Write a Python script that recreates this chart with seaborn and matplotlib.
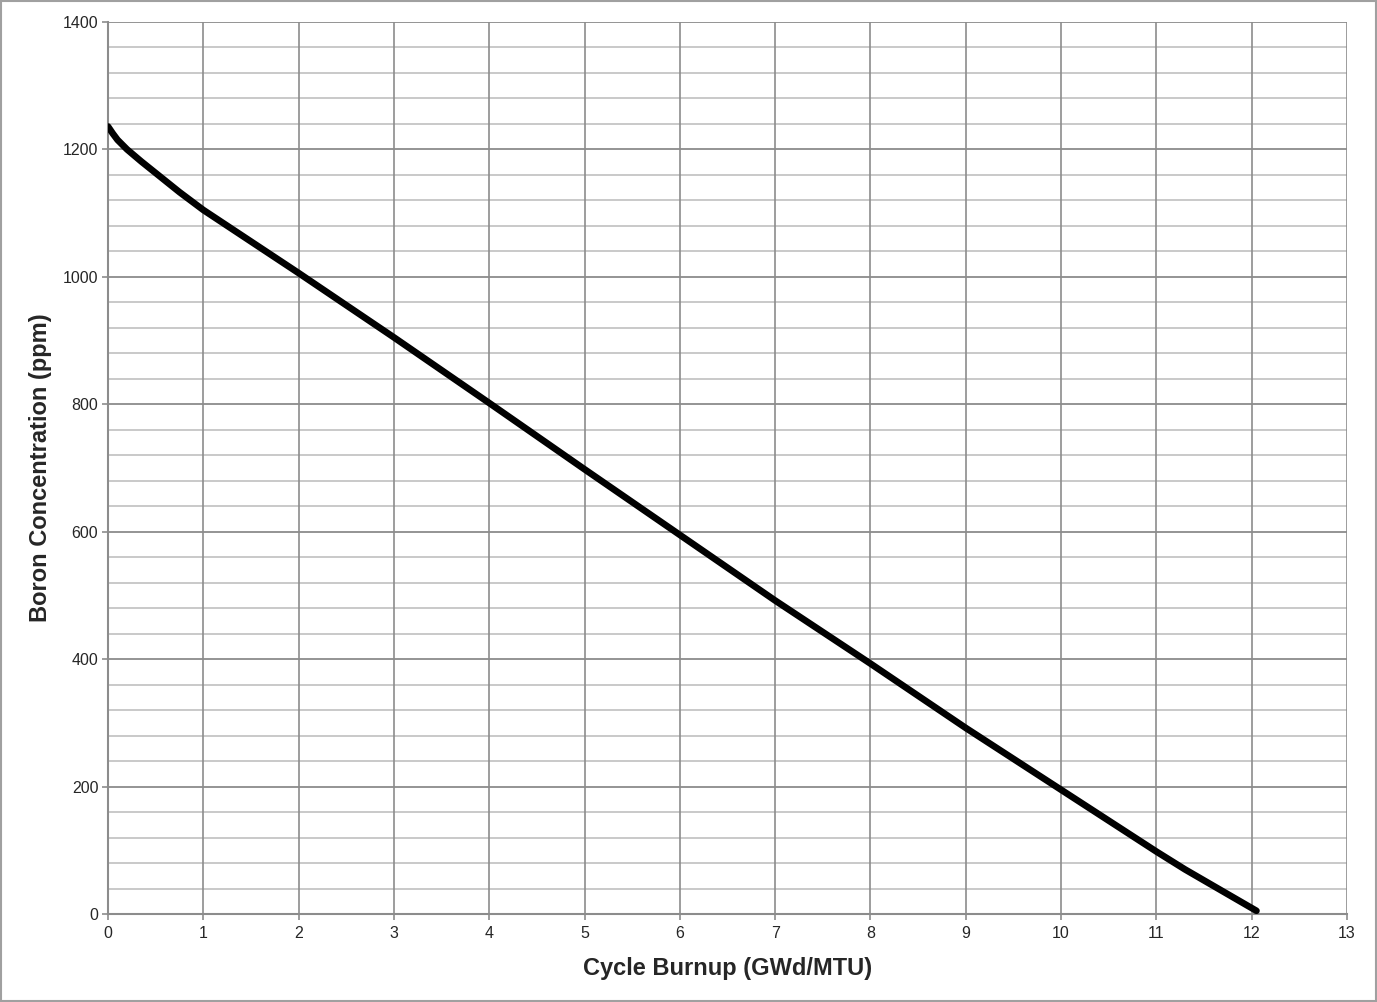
import numpy as np
import pandas as pd
import matplotlib
matplotlib.use('Agg')
import matplotlib.pyplot as plt
import seaborn as sns

# boron letdown curve values
burnup = [0.0, 0.05, 0.1, 0.2, 0.35, 0.5, 0.75, 1.0, 2.0, 3.0, 4.0, 5.0, 6.0, 7.0, 8.0, 9.0, 10.0, 11.0, 11.3, 12.05]
boron = [1236, 1225, 1215, 1200, 1181, 1163, 1133, 1105, 1006, 905, 802, 698, 595, 492, 393, 292, 195, 98, 70, 5]

xticks = list(range(0, 14))
yticks = list(range(0, 1401, 200))
yminor = list(range(0, 1401, 40))

df = pd.DataFrame({'burnup': burnup, 'boron': boron})

sns.set_style('white')
plt.rcParams['font.family'] = ['Liberation Sans', 'DejaVu Sans']

fig = plt.figure(figsize=(13.77, 10.02), dpi=100)
ax = fig.add_axes([108 / 1377, 1 - 914 / 1002, (1347 - 108) / 1377, (914 - 22) / 1002])

# gridlines
for v in yminor:
    ax.axhline(v, color='#c0c0c0', lw=1.2, zorder=0)
for v in yticks:
    ax.axhline(v, color='#8c8c8c', lw=1.2, zorder=0)
for v in xticks:
    ax.axvline(v, color='#8c8c8c', lw=1.2, zorder=0)

sns.lineplot(data=df, x='burnup', y='boron', color='black', lw=4.8,
             solid_capstyle='round', solid_joinstyle='round', ax=ax, zorder=3)

ax.set_xlim(0, 13)
ax.set_ylim(0, 1400)
ax.set_xticks(xticks)
ax.set_yticks(yticks)
ax.tick_params(axis='both', labelsize=11.5, length=4, width=1.2, color='#8c8c8c',
               direction='out', bottom=True, left=True, pad=3)
ax.tick_params(axis='x', pad=4.5)

for side in ['top', 'right']:
    ax.spines[side].set_visible(False)
for side in ['left', 'bottom']:
    ax.spines[side].set_color('#8c8c8c')
    ax.spines[side].set_linewidth(1.5)

ax.set_xlabel('Cycle Burnup (GWd/MTU)', fontsize=17, fontweight='bold', labelpad=12)
ax.set_ylabel('Boron Concentration (ppm)', fontsize=17, fontweight='bold', labelpad=7.5)

# outer border of the figure
border = plt.Rectangle((0.0005, 0.0008), 0.999, 0.9985, transform=fig.transFigure,
                       fill=False, edgecolor='#a0a0a0', lw=1.5)
fig.patches.append(border)

fig.savefig('out.png', dpi=100)
